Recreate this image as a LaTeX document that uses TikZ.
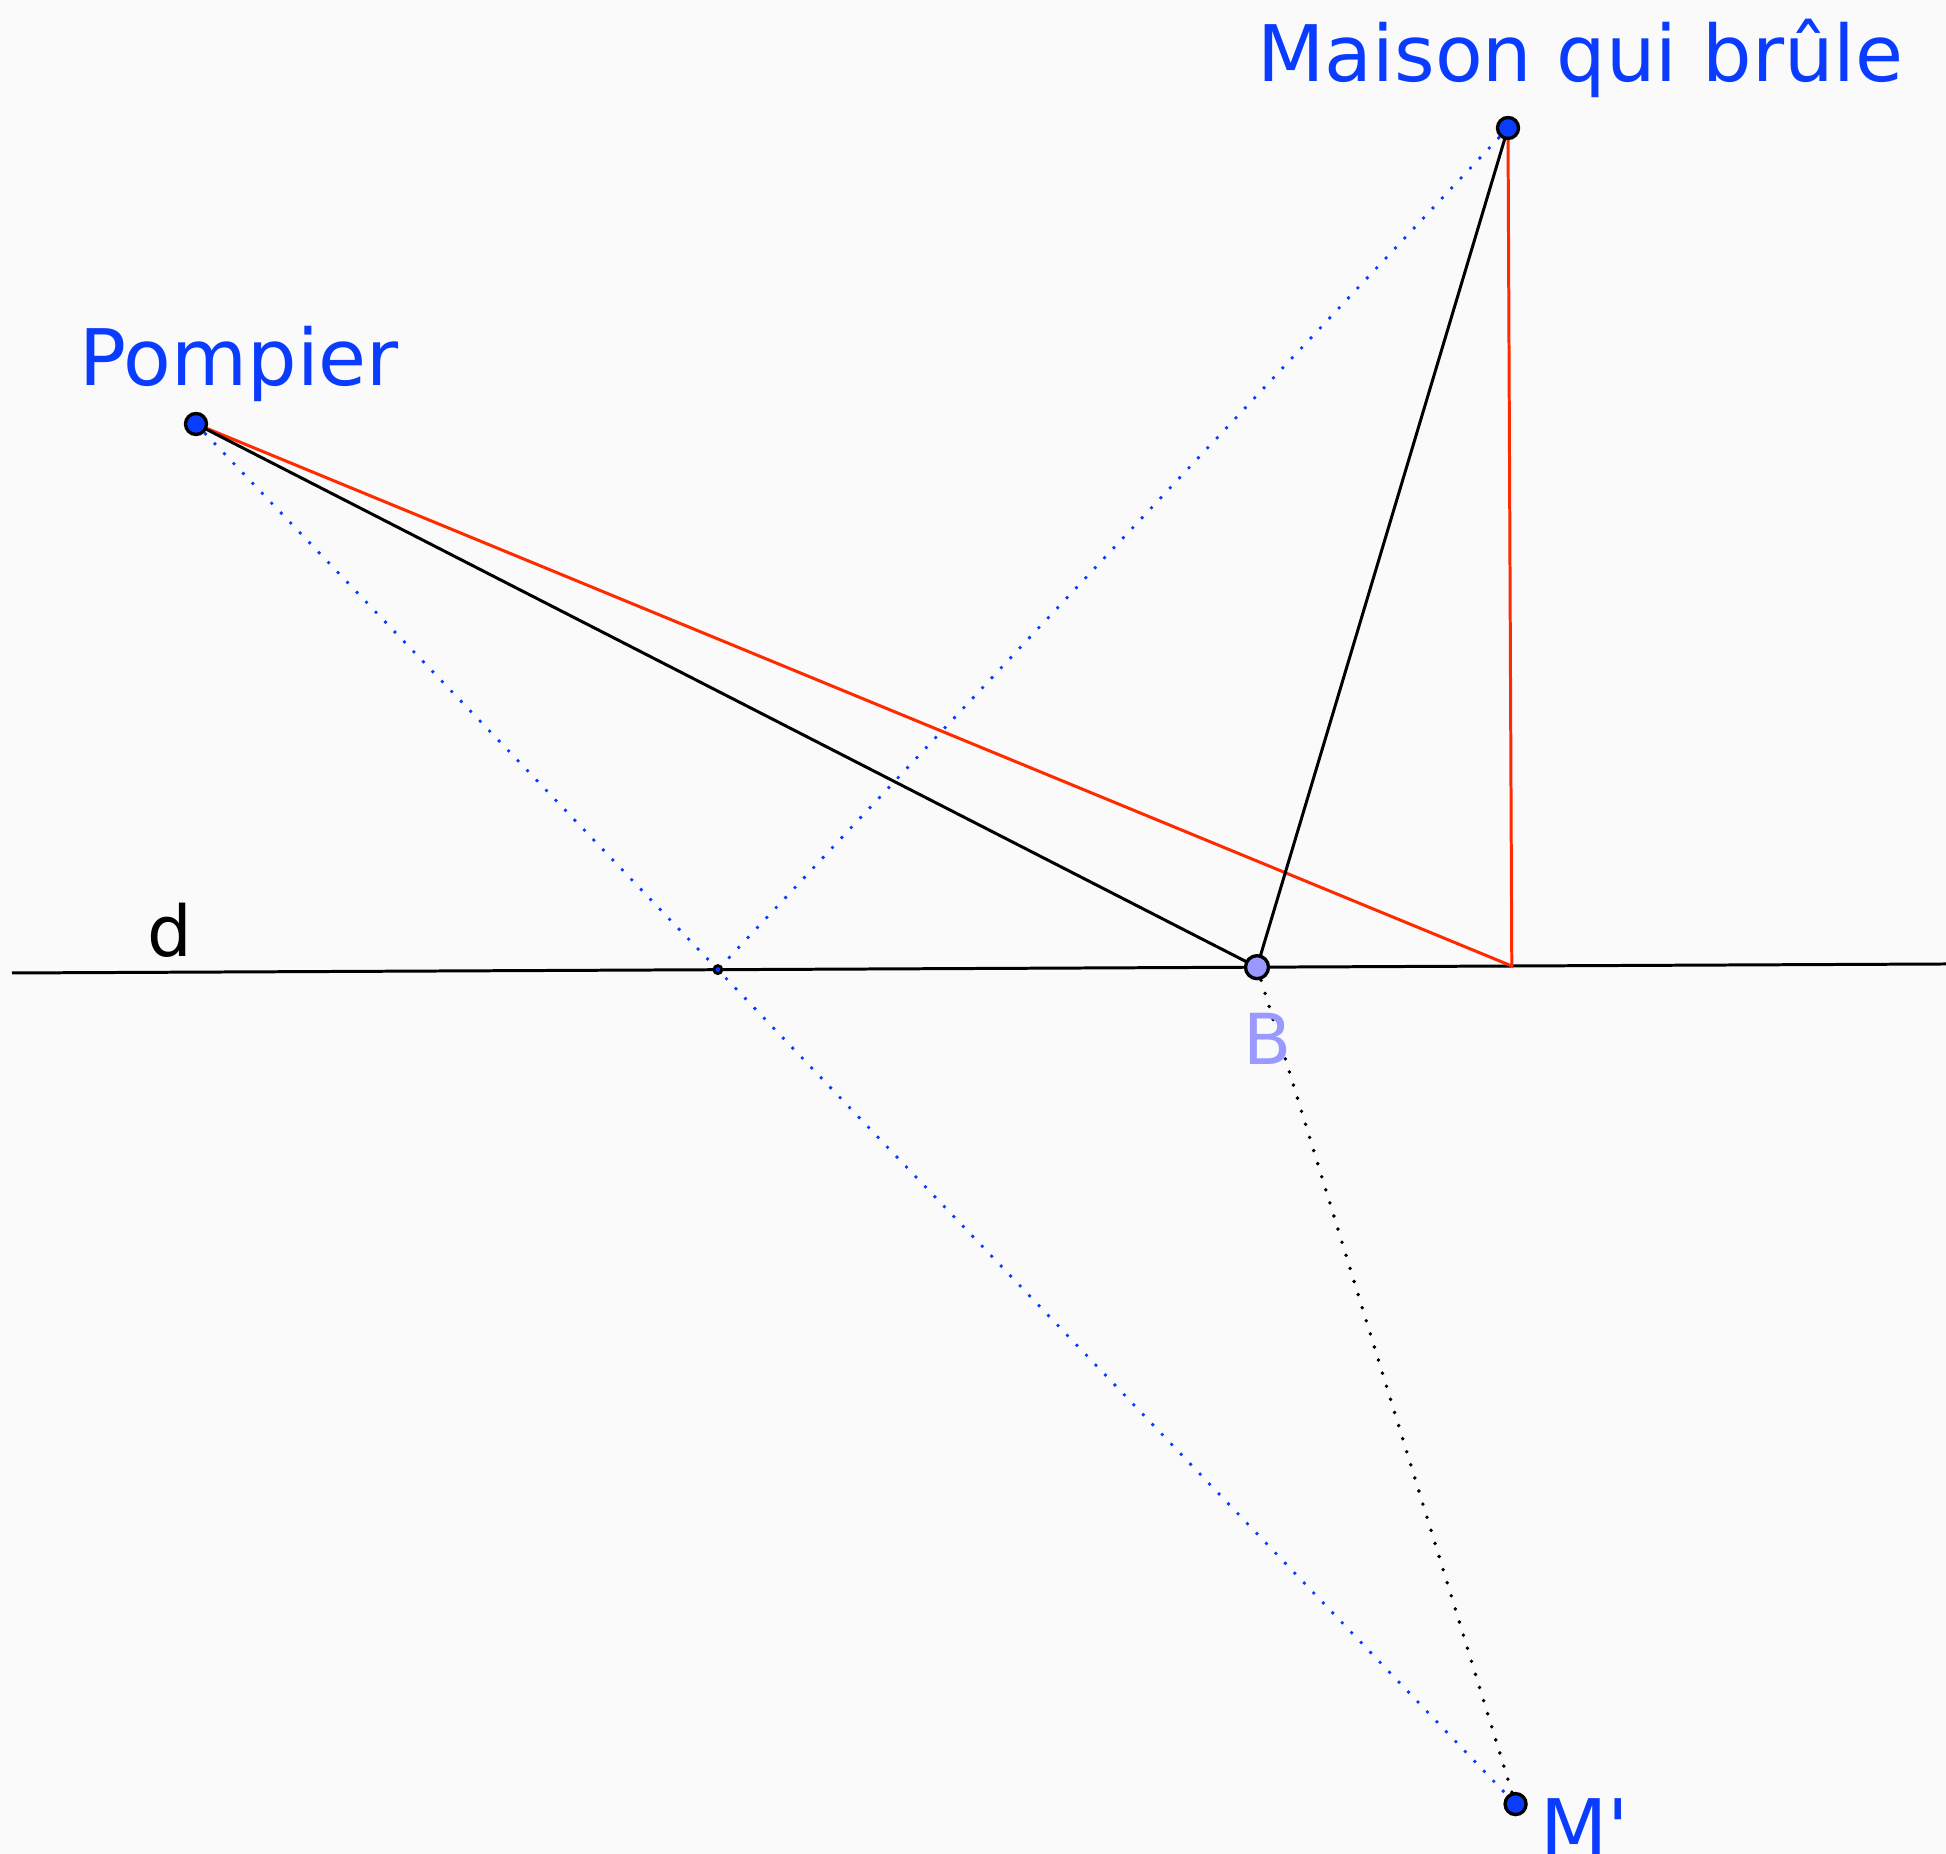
\documentclass[tikz,border=0pt]{standalone}
\usepackage{fontspec}
\setmainfont{DejaVu Sans}
\usetikzlibrary{calc}
\definecolor{gblue}{HTML}{0A3CFF}
\definecolor{gred}{HTML}{FF2A00}
\definecolor{glilac}{HTML}{9999FF}
\definecolor{gpaper}{HTML}{FAFAFA}
\tikzset{
  every picture/.style={line width=0.85pt},
  pt/.style={circle, draw=black, fill=#1, line width=0.95pt, inner sep=0pt, minimum size=0.21cm},
  pt/.default=gblue,
  seg/.style={draw=#1, line width=0.85pt},
  seg/.default=black,
  dots/.style={draw=#1, line width=1.1pt, line cap=round, dash pattern=on 0pt off 3.9pt},
  lbl/.style={text=#1, font=\fontsize{22.2}{26}\selectfont, inner sep=0pt, anchor=base west},
  small/.style={font=\fontsize{20}{24}\selectfont},
}

\begin{document}
\begin{tikzpicture}
  \fill[gpaper] (0,0) rectangle (19.46,18.54);
  \useasboundingbox (0,0) rectangle (19.46,18.54);
  \coordinate (d1) at (0.12, 8.81);
  \coordinate (d2) at (19.46, 8.90);
  \coordinate (P) at (1.96, 14.30);
  \coordinate (M) at (15.08, 17.26);
  \coordinate (B) at (12.57, 8.868);
  \coordinate (H) at ($(d1)!(M)!(d2)$);
  \coordinate (Mp) at ($(M)!2!(H)$);
  \coordinate (I) at (intersection of P--Mp and d1--d2);
  \draw[seg] (d1) -- (d2);
  \draw[dots=gblue] (P) -- (Mp);
  \draw[dots=gblue] (M) -- (I);
  \draw[dots=black] (B) -- (Mp);
  \draw[seg=gred] (P) -- (H) -- (M);
  \draw[seg] (P) -- (B) -- (M);
  \node[pt] (nP) at (P) {};
  \node[pt] (nM) at (M) {};
  \node[pt] (nMp) at (Mp) {};
  \node[pt=glilac, minimum size=0.23cm] (nB) at (B) {};
  \node[circle, draw=black, fill=gblue, line width=0.8pt, inner sep=0pt, minimum size=0.08cm] (nI) at (I) {};
  \node[lbl=gblue] (tM) at (12.56, 17.72) {Maison qui brûle};
  \node[lbl=gblue] (tP) at (0.78, 14.68) {Pompier};
  \node[lbl=black, small] (td) at (1.46, 8.97) {d};
  \node[lbl=glilac, small] (tB) at (12.42, 7.89) {B};
  \node[lbl=gblue] (tMp) at (15.39, -0.02) {M\textquotesingle};
\end{tikzpicture}
\end{document}
